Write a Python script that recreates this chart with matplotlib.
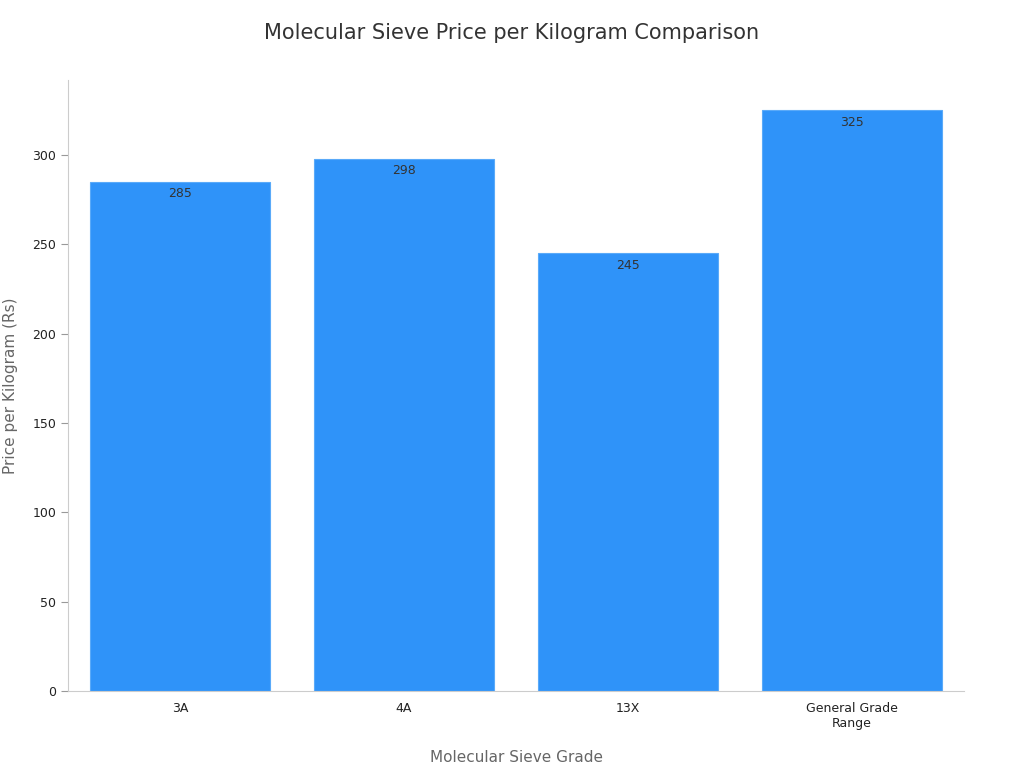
import matplotlib
matplotlib.use("Agg")
import matplotlib.pyplot as plt

categories = ["3A", "4A", "13X", "General Grade\nRange"]
prices = [285, 298, 245, 325]

fig = plt.figure(figsize=(10.24, 7.68), dpi=100)
ax = fig.add_axes([68/1024, 1-691/768, (964-68)/1024, (691-80)/768])
x = range(len(categories))
bars = ax.bar(x, prices, width=0.8, color="#2F93F9", edgecolor="#5AAAF9", linewidth=0.8)
for xi, v in zip(x, prices):
    ax.text(xi, v - 3, str(v), ha="center", va="top", fontsize=9, color="#333333")
ax.set_xlim(-0.5, 3.5)
ax.set_ylim(0, 342)
ax.set_xticks(list(x))
ax.set_xticklabels(categories, fontsize=9, color="#222222")
ax.set_yticks(range(0, 301, 50))
ax.tick_params(axis="y", labelsize=9, colors="#222222", length=5, color="#999999")
ax.tick_params(axis="x", length=0, pad=8)
for s in ["top", "right"]:
    ax.spines[s].set_visible(False)
for s in ["left", "bottom"]:
    ax.spines[s].set_color("#cccccc")
ax.set_xlabel("Molecular Sieve Grade", fontsize=11, color="#666666", labelpad=14)
ax.set_ylabel("Price per Kilogram (Rs)", fontsize=11, color="#666666", labelpad=10)
fig.text(0.5, 1-33/768, "Molecular Sieve Price per Kilogram Comparison", ha="center", va="center", fontsize=15, color="#333333")
fig.savefig("out.png", dpi=100)
